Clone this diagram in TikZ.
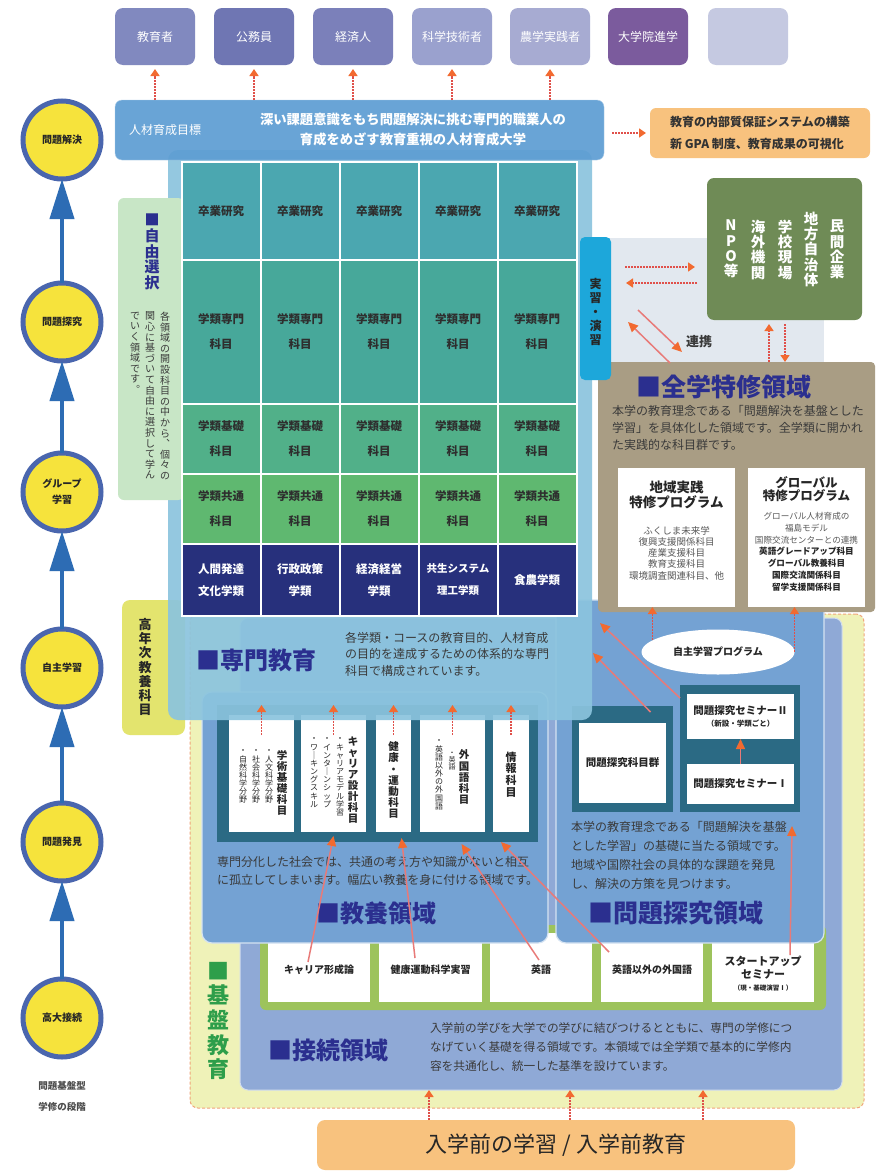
\documentclass[tikz,border=0pt]{standalone}
\usepackage{fontspec}
\setmainfont{Noto Sans CJK JP}
\usetikzlibrary{arrows.meta,shapes.geometric,calc}
\definecolor{tA}{HTML}{8189BF}
\definecolor{tB}{HTML}{6F76B3}
\definecolor{tC}{HTML}{7B80BA}
\definecolor{tD}{HTML}{9AA1CE}
\definecolor{tE}{HTML}{A7ABD2}
\definecolor{tF}{HTML}{7B5B9D}
\definecolor{tG}{HTML}{C5C9E1}
\definecolor{barBlue}{HTML}{5E9ED3}
\definecolor{orangeBox}{HTML}{F8C27E}
\definecolor{rowA}{HTML}{4BA7B0}
\definecolor{rowB}{HTML}{47A89A}
\definecolor{rowC}{HTML}{51B089}
\definecolor{rowD}{HTML}{5FB870}
\definecolor{rowE}{HTML}{27307C}
\definecolor{senBlue}{HTML}{8BC4DE}
\definecolor{jiyuGreen}{HTML}{C8E6C6}
\definecolor{tabCyan}{HTML}{1DA7DA}
\definecolor{olive}{HTML}{6F8B56}
\definecolor{tanBox}{HTML}{A99D84}
\definecolor{lightGray}{HTML}{E2E8EF}
\definecolor{kounenY}{HTML}{E3E46E}
\definecolor{kibanY}{HTML}{EFF2B8}
\definecolor{dashOr}{HTML}{F0A47A}
\definecolor{setsuBlue}{HTML}{8FA9D6}
\definecolor{kyoBlue}{HTML}{74A2D3}
\definecolor{frameTeal}{HTML}{2B6A84}
\definecolor{frameGreen}{HTML}{9DC35C}
\definecolor{arrRed}{HTML}{E0504A}
\definecolor{arrOr}{HTML}{F26A30}
\definecolor{lineRed}{HTML}{E87A78}
\definecolor{circY}{HTML}{F6E33C}
\definecolor{circB}{HTML}{4A66AE}
\definecolor{upBlue}{HTML}{2D6CB4}
\definecolor{navyT}{HTML}{2B2F8F}
\definecolor{greenT}{HTML}{2E9E4A}
\definecolor{txt}{HTML}{3A3A3A}
\ExplSyntaxOn
\NewDocumentCommand\vtxt{O{1.1}m}
 {
  \vbox:n
   {
    \baselineskip=#1em
    \lineskiplimit=-100pt
    \tl_map_inline:nn {#2} { \hbox_to_wd:nn {1em} { \hss ##1 \hss } }
   }
 }
\ExplSyntaxOff
\newcommand\rbox[6]{\node[#6, minimum width={(#4)-(#2)}, minimum height={(#5)-(#3)}] (#1) at ({((#2)+(#4))/2},{((#3)+(#5))/2}) {};}
\tikzset{
 rarr/.style={draw=arrRed, line width=1.4pt, dash pattern=on 2pt off 1pt, -{Triangle[length=7pt,width=9pt,color=arrOr]}},
 sarr/.style={draw=lineRed, line width=1.5pt, -{Triangle[length=10pt,width=9pt,color=arrOr]}},
 barr/.style={draw=upBlue, line width=4pt, -{Triangle[length=40pt,width=24pt]}},
 topbox/.style={rounded corners=8pt, minimum width=80pt, minimum height=57pt, text=white, font=\fontsize{12}{14}\selectfont},
 cell/.style={draw=white, line width=2pt, minimum width=79pt, align=center, font=\bfseries\fontsize{11.5}{25}\selectfont, text=black!82},
 circ/.style={circle, draw=circB, line width=5pt, fill=circY, minimum size=78pt, align=center, font=\bfseries\fontsize{10}{16}\selectfont, text=black!85},
 vt/.style={anchor=north, text=black!85},
 desc/.style={anchor=north west, align=left, text=txt},
 title/.style={anchor=west, text=navyT, font=\bfseries\fontsize{24}{26}\selectfont},
 wtxt/.style={font=\bfseries\fontsize{10}{12}\selectfont, text=black!85},
}
\begin{document}
\begin{tikzpicture}[x=1pt,y=-1pt,every node/.style={inner sep=0pt,outer sep=0pt}]
\useasboundingbox (0,0) rectangle (876,1175);
\fill[white] (0,0) rectangle (876,1175);

% ===== 基盤教育 =====
\rbox{kiban}{190}{614}{864}{1108}{draw=dashOr, dash pattern=on 3pt off 2pt, line width=1pt, fill=kibanY, rounded corners=8pt}
\rbox{setsuzoku}{240}{618}{842}{1090}{fill=setsuBlue, rounded corners=8pt, draw=white!60!setsuBlue, line width=1pt}
\rbox{gframe}{260}{925}{826}{1010}{fill=frameGreen, rounded corners=6pt}
\rbox{s1}{268}{933}{370}{1002}{fill=white}
\rbox{s2}{379}{933}{482}{1002}{fill=white}
\rbox{s3}{490}{933}{592}{1002}{fill=white}
\rbox{s4}{601}{933}{703}{1002}{fill=white}
\rbox{s5}{712}{933}{814}{1002}{fill=white}
\node[wtxt] (s1t) at (319,970) {キャリア形成論};
\node[wtxt] (s2t) at (430.5,970) {健康運動科学実習};
\node[wtxt] (s3t) at (541,970) {英語};
\node[wtxt] (s4t) at (652,970) {英語以外の外国語};
\node[align=center, font=\bfseries\fontsize{11}{12.5}\selectfont, text=black!85] (s5t) at (763,974) {スタートアップ\\セミナー\\{\fontsize{6.5}{9}\selectfont （現・基礎演習Ⅰ）}};

\node[vt, text=greenT, font=\bfseries\fontsize{22}{24}\selectfont] (kibanT) at (218,962) {\vtxt[1.12]{■基盤教育}};
\node[title] (stitle) at (268,1050) {■接続領域};
\node[desc, font=\fontsize{11.7}{19}\selectfont] (sdesc) at (430,1023) {入学前の学びを大学での学びに結びつけるとともに、専門の学修につ\\なげていく基礎を得る領域です。本領域では全学類で基本的に学修内\\容を共通化し、統一した基準を設けています。};

% ===== 教養領域 =====
\rbox{kyoyo}{202}{692}{548}{943}{fill=kyoBlue, rounded corners=10pt, draw=white!70!kyoBlue, line width=1.2pt}
\rbox{kframe}{217}{705}{538}{842}{fill=frameTeal}
\rbox{kb1}{229}{715}{294}{832}{fill=white}
\rbox{kb2}{301}{715}{366}{832}{fill=white}
\rbox{kb3}{376}{715}{411}{832}{fill=white}
\rbox{kb4}{420}{715}{485}{832}{fill=white}
\rbox{kb5}{493}{715}{529}{832}{fill=white}
\node[vt, font=\bfseries\fontsize{10.5}{12}\selectfont] (kb1a) at (282,750) {\vtxt[1.05]{学術基礎科目}};
\node[vt, font=\fontsize{8}{9}\selectfont] (kb1b) at (269,750) {\vtxt[1.02]{・人文科学分野}};
\node[vt, font=\fontsize{8}{9}\selectfont] (kb1c) at (256,750) {\vtxt[1.02]{・社会科学分野}};
\node[vt, font=\fontsize{8}{9}\selectfont] (kb1d) at (243,750) {\vtxt[1.02]{・自然科学分野}};
\node[vt, font=\bfseries\fontsize{10.5}{12}\selectfont] (kb2a) at (353,737) {\vtxt[1.05]{キャリア設計科目}};
\node[vt, font=\fontsize{8}{9}\selectfont] (kb2b) at (340,738) {\vtxt[1.02]{・キャリアモデル学習}};
\node[vt, font=\fontsize{8}{9}\selectfont] (kb2c) at (327,738) {\vtxt[1.02]{・インタ｜ンシップ}};
\node[vt, font=\fontsize{8}{9}\selectfont] (kb2d) at (314,738) {\vtxt[1.02]{・ワ｜キングスキル}};
\node[vt, font=\bfseries\fontsize{10.5}{12}\selectfont] (kb3a) at (393.5,742) {\vtxt[1.05]{健康・運動科目}};
\node[vt, font=\bfseries\fontsize{10.5}{12}\selectfont] (kb4a) at (464,750) {\vtxt[1.05]{外国語科目}};
\node[vt, font=\fontsize{7}{8}\selectfont] (kb4b) at (452,752) {\vtxt[1.02]{・英語}};
\node[vt, font=\fontsize{8}{9}\selectfont] (kb4c) at (439,740) {\vtxt[1.02]{・英語以外の外国語}};
\node[vt, font=\bfseries\fontsize{11}{12}\selectfont] (kb5a) at (511,752) {\vtxt[1.05]{情報科目}};
\node[desc, font=\fontsize{12}{18.5}\selectfont] (kdesc) at (217,856) {専門分化した社会では、共通の考え方や知識がないと相互\\に孤立してしまいます。幅広い教養を身に付ける領域です。};
\node[title] (ktitle) at (316,913) {■教養領域};

% ===== 問題探究領域 =====
\rbox{mondai}{556}{600}{824}{943}{fill=kyoBlue, rounded corners=10pt, draw=white!70!kyoBlue, line width=1.2pt}
\rbox{mf1}{572}{706}{673}{812}{fill=frameTeal}
\rbox{mb1}{579}{723}{666}{803}{fill=white}
\node[font=\bfseries\fontsize{10.5}{12}\selectfont, text=black!85] (mb1t) at (mb1) {問題探究科目群};
\rbox{mf2}{680}{685}{800}{812}{fill=frameTeal}
\rbox{mb2}{687}{694}{794}{739}{fill=white}
\rbox{mb3}{687}{764}{794}{804}{fill=white}
\node[align=center, font=\bfseries\fontsize{10.5}{12}\selectfont, text=black!85] (mb2t) at (mb2) {問題探究セミナーⅡ\\{\fontsize{7.5}{10}\selectfont （新設・学類ごと）}};
\node[font=\bfseries\fontsize{10.5}{12}\selectfont, text=black!85] (mb3t) at (mb3) {問題探究セミナーⅠ};
\draw[sarr] (mb3.north) -- (mb2.south);
\node[ellipse, fill=white, minimum width=153pt, minimum height=45pt, font=\bfseries\fontsize{10}{12}\selectfont, text=black!85] (jishu) at (718,652) {自主学習プログラム};
\node[desc, font=\fontsize{12}{19}\selectfont] (mdesc) at (571,821) {本学の教育理念である「問題解決を基盤\\とした学習」の基礎に当たる領域です。\\地域や国際社会の具体的な課題を発見\\し、解決の方策を見つけます。};
\node[title, font=\bfseries\fontsize{25}{27}\selectfont] (mtitle) at (588,913) {■問題探究領域};

% ===== 全学特修領域 =====
\rbox{renkeibg}{600}{238}{824}{366}{fill=lightGray}
\rbox{tokushu}{598}{362}{875}{612}{fill=tanBox, rounded corners=4pt}
\node[title, font=\bfseries\fontsize{25}{27}\selectfont] (ttitle) at (636,387) {■全学特修領域};
\node[desc, font=\fontsize{12}{17.3}\selectfont] (tdesc) at (612,405) {本学の教育理念である「問題解決を基盤とした\\学習」を具体化した領域です。全学類に開かれ\\た実践的な科目群です。};
\rbox{chiiki}{618}{468}{735}{607}{fill=white}
\rbox{glob}{748}{468}{865}{607}{fill=white}
\node[align=center, font=\bfseries\fontsize{13.5}{15}\selectfont, text=black!85] (chiikiT) at (676.5,495) {地域実践\\特修プログラム};
\node[anchor=north, align=center, font=\fontsize{9.5}{11.3}\selectfont, text=black!65] (chiikiL) at (676.5,526) {ふくしま未来学\\復興支援関係科目\\産業支援科目\\教育支援科目\\環境調査関連科目、他};
\node[align=center, font=\bfseries\fontsize{12.5}{13}\selectfont, text=black!85] (globT) at (806.5,489) {グローバル\\特修プログラム};
\node[anchor=north, align=center, font=\fontsize{8.6}{11.9}\selectfont, text=black!65] (globL) at (806.5,512) {グローバル人材育成の\\福島モデル\\国際交流センターとの連携\\{\bfseries\color{black!85}英語グレードアップ科目}\\{\bfseries\color{black!85}グローバル教養科目}\\{\bfseries\color{black!85}国際交流関係科目}\\{\bfseries\color{black!85}留学支援関係科目}};
\draw[rarr] (jishu.170) -- (jishu.170 |- chiiki.south);
\draw[rarr] (jishu.east) -- (jishu.east |- glob.south);

% ===== 高年次教養科目 =====
\rbox{kounen}{122}{600}{185}{735}{fill=kounenY, rounded corners=8pt}
\node[vt, font=\bfseries\fontsize{13}{14}\selectfont] (kounenT) at (145,618) {\vtxt[1.1]{高年次教養科目}};

% ===== 専門教育 =====
\rbox{senmon}{168}{150}{592}{720}{fill=senBlue, fill opacity=0.92, rounded corners=10pt}
\node[title] (sentitle) at (196,660) {■専門教育};
\node[desc, font=\fontsize{12}{16.5}\selectfont] (sendesc) at (345,632) {各学類・コースの教育目的、人材育成\\の目的を達成するための体系的な専門\\科目で構成されています。};

% ===== 自由選択 =====
\rbox{jiyu}{118}{198}{184}{500}{fill=jiyuGreen, rounded corners=6pt}
\node[vt, text=navyT, font=\bfseries\fontsize{15}{16}\selectfont] (jiyuT) at (152,214) {\vtxt[1.05]{■自由選択}};
\node[vt, text=txt, font=\fontsize{10}{11}\selectfont] (jd1) at (165,312) {\vtxt[1.06]{各領域の開設科目の中から︑個々の}};
\node[vt, text=txt, font=\fontsize{10}{11}\selectfont] (jd2) at (150,312) {\vtxt[1.06]{関心に基づいて自由に選択して学ん}};
\node[vt, text=txt, font=\fontsize{10}{11}\selectfont] (jd3) at (135,312) {\vtxt[1.06]{でいく領域です︒}};

% ===== grid =====
\foreach \c/\x in {1/221,2/300,3/379,4/458,5/537} {
 \node[cell, fill=rowA, minimum height=98pt] (r1c\c) at (\x,211) {卒業研究};
 \node[cell, fill=rowB, minimum height=144pt] (r2c\c) at (\x,332) {学類専門\\科目};
 \node[cell, fill=rowC, minimum height=70pt] (r3c\c) at (\x,439) {学類基礎\\科目};
 \node[cell, fill=rowD, minimum height=70pt] (r4c\c) at (\x,509) {学類共通\\科目};
}
\node[cell, fill=rowE, minimum height=72pt, text=white, font=\bfseries\fontsize{11.5}{22}\selectfont] (r5c1) at (221,580) {人間発達\\文化学類};
\node[cell, fill=rowE, minimum height=72pt, text=white, font=\bfseries\fontsize{11.5}{22}\selectfont] (r5c2) at (300,580) {行政政策\\学類};
\node[cell, fill=rowE, minimum height=72pt, text=white, font=\bfseries\fontsize{11.5}{22}\selectfont] (r5c3) at (379,580) {経済経営\\学類};
\node[cell, fill=rowE, minimum height=72pt, text=white, font=\bfseries\fontsize{10.5}{22}\selectfont] (r5c4) at (458,580) {共生システム\\理工学類};
\node[cell, fill=rowE, minimum height=72pt, text=white, font=\bfseries\fontsize{11.5}{22}\selectfont] (r5c5) at (537,580) {食農学類};

% ===== 実習・演習 and partners =====
\rbox{jisshu}{580}{237}{611}{380}{fill=tabCyan, rounded corners=5pt}
\node[font=\bfseries\fontsize{12}{13}\selectfont, text=black!85] (jisshuT) at (595.5,312) {\vtxt[1.17]{実習・演習}};
\rbox{org}{707}{178}{862}{320}{fill=olive, rounded corners=7pt}
\node[vt, text=white, font=\bfseries\fontsize{14.5}{16}\selectfont] (o1) at (837,220) {\vtxt[1.05]{民間企業}};
\node[vt, text=white, font=\bfseries\fontsize{14.5}{16}\selectfont] (o2) at (811,212) {\vtxt[1.05]{地方自治体}};
\node[vt, text=white, font=\bfseries\fontsize{14.5}{16}\selectfont] (o3) at (785,220) {\vtxt[1.05]{学校現場}};
\node[vt, text=white, font=\bfseries\fontsize{14.5}{16}\selectfont] (o4) at (758,220) {\vtxt[1.05]{海外機関}};
\node[vt, text=white, font=\bfseries\fontsize{14.5}{16}\selectfont] (o5) at (731,220) {\vtxt[1.05]{NPO等}};
\draw[rarr, shorten <=14pt, shorten >=12pt] (jisshu.east |- 0,267) -- (org.west |- 0,267);
\draw[rarr, shorten <=10pt, shorten >=15pt] (org.west |- 0,283) -- (jisshu.east |- 0,283);
\coordinate (rk1) at (638,310);
\coordinate (rk2) at (682,352);
\coordinate (rk3) at (670,363);
\coordinate (rk4) at (628,322);
\draw[sarr] (rk1) -- (rk2);
\draw[sarr] (rk3) -- (rk4);
\node[font=\bfseries\fontsize{13}{14}\selectfont, text=txt] (renkei) at (699,342) {連携};
\draw[rarr, shorten >=4pt] (tokushu.north -| 769,0) -- (org.south -| 769,0);
\draw[rarr, shorten <=4pt] (org.south -| 785,0) -- (tokushu.north -| 785,0);

% ===== goal bar and careers =====
\rbox{bar}{115}{100}{604}{160}{fill=barBlue, fill opacity=0.93, rounded corners=7pt, draw=white!50!barBlue}
\node[text=white, font=\fontsize{12}{14}\selectfont] (barL) at (165,130) {人材育成目標};
\node[align=center, text=white, font=\bfseries\fontsize{13.3}{20}\selectfont] (barT) at (413,130) {深い課題意識をもち問題解決に挑む専門的職業人の\\育成をめざす教育重視の人材育成大学};
\node[topbox, fill=tA] (t1) at (155,36.5) {教育者};
\node[topbox, fill=tB] (t2) at (254,36.5) {公務員};
\node[topbox, fill=tC] (t3) at (353,36.5) {経済人};
\node[topbox, fill=tD] (t4) at (452,36.5) {科学技術者};
\node[topbox, fill=tE] (t5) at (550,36.5) {農学実践者};
\node[topbox, fill=tF] (t6) at (648,36.5) {大学院進学};
\node[topbox, fill=tG] (t7) at (748,36.5) {};
\foreach \t in {t1,t2,t3,t4,t5} {
 \draw[rarr] (bar.north -| \t) -- ([yshift=-4pt]\t.south);
}
\rbox{obox}{650}{108}{870}{158}{fill=orangeBox, rounded corners=6pt}
\node[align=left, font=\bfseries\fontsize{12}{22}\selectfont, text=black!80] (oboxT) at (obox) {教育の内部質保証システムの構築\\新 GPA 制度、教育成果の可視化};
\draw[rarr, shorten <=8pt, shorten >=4pt] (bar.east |- obox.west) -- (obox.west);

% ===== 教養 arrows =====
\foreach \k in {kb1,kb2,kb3,kb4,kb5} {
 \draw[rarr] ([yshift=-20pt]\k.north) -- (\k.north |- kframe.north);
}

% ===== long arrows =====
\coordinate (d1s) at (308,962);
\coordinate (d2s) at (415,958);
\coordinate (d3s) at (539,960);
\coordinate (d4s) at (609,952);
\coordinate (d5s) at (790,955);
\coordinate (d5e) at (792,826);
\draw[sarr] (d1s) -- ([yshift=-4pt]kb2.south);
\draw[sarr] (d2s) -- ([xshift=8pt,yshift=-6pt]kb3.south);
\draw[sarr] (d3s) -- ([xshift=9pt,yshift=-12pt]kb4.south);
\draw[sarr] (d4s) -- ([xshift=-10pt,yshift=-10pt]kb5.south);
\draw[sarr] (d5s) -- (d5e);
\coordinate (m1e) at (600,623);
\coordinate (m2e) at (593,653);
\draw[sarr] ([yshift=-13pt]mf2.north west) -- (m1e);
\draw[sarr] ([xshift=28pt,yshift=-6pt]mf1.north) -- (m2e);

% ===== 入学前 =====
\rbox{nyugaku}{317}{1120}{795}{1170}{fill=orangeBox, rounded corners=8pt}
\node[font=\fontsize{22}{24}\selectfont, text=black!85] (nyugakuT) at (nyugaku) {入学前の学習 / 入学前教育};
\foreach \xx in {429,570,703} {
 \draw[rarr] (nyugaku.north -| \xx,0) -- (setsuzoku.south -| \xx,0);
}

% ===== stages column =====
\node[circ] (c1) at (62,140) {問題解決};
\node[circ] (c2) at (62,322) {問題探究};
\node[circ] (c3) at (62,492) {グループ\\学習};
\node[circ] (c4) at (62,668) {自主学習};
\node[circ] (c5) at (62,842) {問題発見};
\node[circ] (c6) at (62,1018) {高大接続};
\draw[barr] (c2.north) -- (c1.south);
\draw[barr] (c3.north) -- (c2.south);
\draw[barr] (c4.north) -- (c3.south);
\draw[barr] (c5.north) -- (c4.south);
\draw[barr] (c6.north) -- (c5.south);
\node[align=center, font=\bfseries\fontsize{9.5}{21}\selectfont, text=black!70] (cap) at (62,1096) {問題基盤型\\学修の段階};
\end{tikzpicture}
\end{document}
